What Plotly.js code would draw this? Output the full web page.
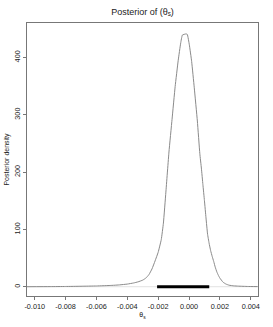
<!DOCTYPE html>
<html>
<head>
<meta charset="utf-8">
<script src="https://cdn.plot.ly/plotly-3.0.1.min.js"></script>
<style>html,body{margin:0;padding:0;background:#fff;}#chart{width:273px;height:327px;}</style>
</head>
<body>
<div id="chart"></div>
<script>
// Posterior density curve
var thetaValues = [-0.0105, -0.0090, -0.0080, -0.0070, -0.0060, -0.0050, -0.0045, -0.0040, -0.0036, -0.0033, -0.0030, -0.0028, -0.0026, -0.0024, -0.0022, -0.0020, -0.0018, -0.00166, -0.0015, -0.0013, -0.0011, -0.0009, -0.0007, -0.00054, -0.00043, -0.00019, -0.00011, 0.00002, 0.00017, 0.00034, 0.00054, 0.0007, 0.0008, 0.0009, 0.0010, 0.0011, 0.0012, 0.0013, 0.0014, 0.0015, 0.0016, 0.0017, 0.0018, 0.0019, 0.0020, 0.0022, 0.0024, 0.0026, 0.0029, 0.0032, 0.0038, 0.00445];
var densityValues = [0, 0.2, 0.4, 0.8, 1.3, 2.3, 3.2, 4.6, 6.5, 8.5, 11.5, 15, 21, 31, 45, 60, 82, 111, 165, 235, 292, 349, 395, 425, 439, 441, 440, 422, 393, 347, 289, 232, 207, 178, 150, 120, 92, 76, 63, 53, 44, 34, 26, 20, 15, 8, 4.5, 2.6, 1.5, 1, 0.4, 0.2];
// Credible interval bar
var intervalX = [-0.00207, 0.00131];
var intervalY = [0, 0];
// Reference baseline
var baselineX = [-0.0105, 0.00445];
var baselineY = [0, 0];
// Tick labels
var xTickVals = [-0.010, -0.008, -0.006, -0.004, -0.002, 0.000, 0.002, 0.004];
var xTickText = ["-0.010", "-0.008", "-0.006", "-0.004", "-0.002", "0.000", "0.002", "0.004"];
var yTickVals = [0, 100, 200, 300, 400];
var yTickText = ["0", "100", "200", "300", "400"];

var fontFam = "Liberation Sans, Arial, sans-serif";
var traces = [
  {x: baselineX, y: baselineY, mode: "lines", line: {color: "#e2e2e2", width: 1}, hoverinfo: "skip", showlegend: false},
  {x: thetaValues, y: densityValues, mode: "lines", line: {color: "#8a8a8a", width: 1, shape: "spline", smoothing: 0.35}, showlegend: false},
  {x: intervalX, y: intervalY, mode: "lines", line: {color: "#000", width: 3}, showlegend: false}
];
var layout = {
  width: 273, height: 327,
  margin: {l: 27, r: 15, t: 23, b: 31},
  paper_bgcolor: "#fff", plot_bgcolor: "#fff",
  font: {family: fontFam, color: "#222", size: 7.3},
  title: {text: "Posterior of (θ<sub>s</sub>)", font: {size: 9, family: fontFam, color: "#222"}, x: 0.522, xanchor: "center", y: 0.965, yanchor: "middle"},
  xaxis: {
    range: [-0.0105, 0.00447], showgrid: false, zeroline: false,
    showline: true, mirror: true, linecolor: "#777", linewidth: 1,
    ticks: "outside", ticklen: 3, tickcolor: "#777",
    tickvals: xTickVals, ticktext: xTickText,
    tickfont: {size: 7.3, family: fontFam, color: "#222"},
    title: {text: "θ<sub>s</sub>", font: {size: 7, family: fontFam, color: "#222"}, standoff: 2}
  },
  yaxis: {
    range: [-16.2, 460], showgrid: false, zeroline: false,
    showline: true, mirror: true, linecolor: "#777", linewidth: 1,
    ticks: "outside", ticklen: 3, tickcolor: "#777",
    tickvals: yTickVals, ticktext: yTickText, tickangle: -90,
    tickfont: {size: 7.3, family: fontFam, color: "#222"},
    title: {text: "Posterior density", font: {size: 7, family: fontFam, color: "#222"}, standoff: 2}
  }
};
Plotly.newPlot("chart", traces, layout, {staticPlot: true, displayModeBar: false});
</script>
</body>
</html>
